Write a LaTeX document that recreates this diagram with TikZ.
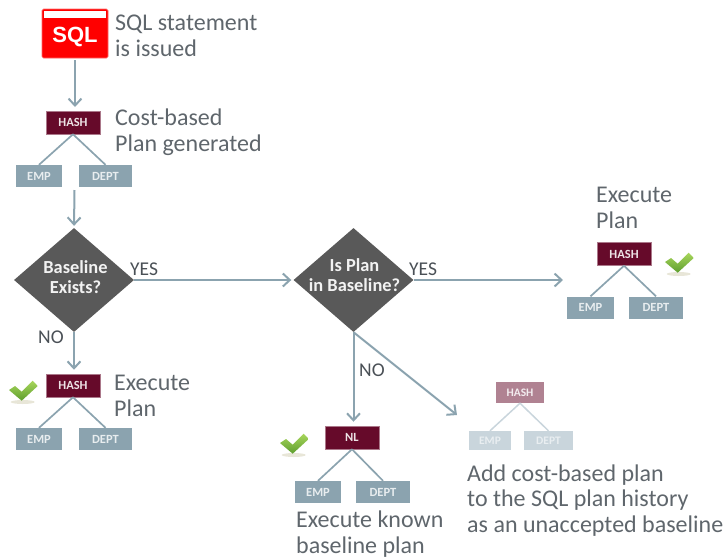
\documentclass[tikz,border=0pt]{standalone}
\usepackage{fontspec}
\setmainfont{Carlito}
\newfontfamily\arialfont{Liberation Sans}
\usetikzlibrary{arrows.meta,shapes.geometric}
\definecolor{linec}{HTML}{8BA3AF}
\definecolor{maroon}{HTML}{660A2A}
\definecolor{maroonf}{HTML}{B08292}
\definecolor{leaff}{HTML}{C9D5DC}
\definecolor{txt}{HTML}{5F666C}
\definecolor{txtd}{HTML}{4A5056}
\definecolor{dia}{HTML}{595959}
\definecolor{chktop}{HTML}{A8D65C}
\definecolor{chkbot}{HTML}{5E9E2E}
\definecolor{chkshadow}{HTML}{E8E6D8}
\tikzset{
  conn/.style={draw=linec,line width=2pt,-{Straight Barb[length=7pt,width=13pt,line width=2pt]}},
  treeline/.style={draw=linec,line width=1.7pt},
  treelinef/.style={draw=leaff,line width=1.5pt},
  hashbox/.style={fill=maroon,draw=maroon!55!white,line width=.5pt,text=white!88!maroon,inner sep=0pt,minimum width=54,minimum height=23,font=\fontsize{12.5}{13}\selectfont\bfseries},
  leafbox/.style={fill=linec,inner sep=0pt,minimum height=22,text=white!80!linec,font=\fontsize{12.5}{13}\selectfont\bfseries},
  hashf/.style={fill=maroonf,inner sep=0pt,minimum width=48,minimum height=21,text=white!85!maroonf,font=\fontsize{11.5}{12}\selectfont\bfseries},
  leaff/.style={fill=leaff,inner sep=0pt,minimum height=19,text=white!60!leaff,font=\fontsize{11.5}{12}\selectfont\bfseries},
  decision/.style={diamond,fill=dia,inner sep=0pt,aspect=1.15,minimum width=120,minimum height=104},
  dtext/.style={text=white!92!dia,align=center,inner sep=0pt,font=\fontsize{18.4}{20}\selectfont\bfseries},
  big/.style={anchor=base west,text=txt,inner sep=0pt,align=left,font=\fontsize{24}{25.3}\selectfont},
  yn/.style={anchor=base west,text=txtd,inner sep=0pt,font=\fontsize{19.5}{20}\selectfont},
  chk/.pic={
    \fill[chkshadow] (13.7,22) ellipse [x radius=12,y radius=2];
    \shade[top color=chktop,bottom color=chkbot]
      (0,10) -- (6,6) -- (12.7,11.7) -- (23.7,.7) -- (28.7,6) -- (12.7,20.7) -- cycle;
  }
}
\begin{document}
\begin{tikzpicture}[x=1pt,y=-1pt]
\useasboundingbox (0,0) rectangle (728,558);
% SQL
\node[fill=red,draw=red!60!white,line width=.6pt,rounded corners=1.5pt,minimum width=66,minimum height=49,inner sep=0pt] (sql) at (75,33.5) {};
\node[fill=white,minimum width=62,minimum height=7,inner sep=0pt] (sqlbar) at (75,14.5) {};
\node[text=white,inner sep=0pt,font=\arialfont\bfseries\fontsize{22}{23}\selectfont] (sqlt) at (75,36.5) {SQL};
\node[big] (tsql) at (115,56) {SQL statement\\is issued};
% Plan 1
\node[hashbox] (h1) at (73,122.5) {HASH};
\node[leafbox,minimum width=46] (e1) at (39,176) {EMP};
\node[leafbox,minimum width=53] (d1) at (105.5,176) {DEPT};
\draw[treeline] (h1.south) -- (e1.north);
\draw[treeline] (h1.south) -- (d1.north);
\node[big] (tcost) at (115,151) {Cost-based\\Plan generated};
\draw[conn,shorten <=2pt,shorten >=4pt] (sql.south) -- (75,111) coordinate (h1top);
% Decision 1
\coordinate (t1) at (74.5,190);
\node[decision] (q1) at (74,280) {};
\node[dtext] (q1t) at (75.5,277) {Baseline\\Exists?};
\draw[conn,shorten >=2pt] (t1) -- (q1.north);
\node[yn] (y1) at (130,275) {YES};
\node[yn] (n1) at (38,343) {NO};
% Plan 2
\node[hashbox] (h2) at (73,385.5) {HASH};
\node[leafbox,minimum width=46] (e2) at (39,439) {EMP};
\node[leafbox,minimum width=53] (d2) at (105.5,439) {DEPT};
\draw[treeline] (h2.south) -- (e2.north);
\draw[treeline] (h2.south) -- (d2.north);
\draw[conn,shorten >=4pt] (q1.south) -- (q1.south |- h2.north);
\node[big] (tex1) at (114,416) {Execute\\Plan};
\pic at (9,380) {chk};
% Decision 2
\node[decision] (q2) at (353.5,280) {};
\node[dtext] (q2t) at (354.5,275.5) {Is Plan\\in Baseline?};
\draw[conn,shorten >=2pt] (q1.east) -- (q2.west);
\node[yn] (y2) at (409,275) {YES};
\node[yn] (n2) at (359,376) {NO};
% Plan 3
\node[hashbox] (h3) at (624,254) {HASH};
\node[leafbox,minimum width=47] (e3) at (590.5,307.5) {EMP};
\node[leafbox,minimum width=54] (d3) at (656,307.5) {DEPT};
\draw[treeline] (h3.south) -- (e3.north);
\draw[treeline] (h3.south) -- (d3.north);
\coordinate (a3) at (563,280);
\draw[conn] (q2.east) -- (a3);
\node[big] (tex3) at (596,228) {Execute\\Plan};
\pic at (665,252) {chk};
% Plan NL
\node[hashbox] (h4) at (352,437.5) {NL};
\node[leafbox,minimum width=46] (e4) at (318,492) {EMP};
\node[leafbox,minimum width=54] (d4) at (383,492) {DEPT};
\draw[treeline] (h4.south) -- (e4.north);
\draw[treeline] (h4.south) -- (d4.north);
\draw[conn,shorten >=4pt] (q2.south) -- (q2.south |- h4.north);
\node[big] (tex4) at (296,553) {Execute known\\baseline plan};
\pic at (280,433) {chk};
% Faded plan
\node[hashf] (h5) at (520,392.5) {HASH};
\node[leaff,minimum width=42] (e5) at (490,440.5) {EMP};
\node[leaff,minimum width=49] (d5) at (548.5,440.5) {DEPT};
\draw[treelinef] (h5.south) -- (e5.north);
\draw[treelinef] (h5.south) -- (d5.north);
\coordinate (a5) at (457,415);
\draw[conn] (q2.south) -- (a5);
\node[big] (tadd) at (467,532) {Add cost-based plan\\to the SQL plan history\\as an unaccepted baseline};
\end{tikzpicture}
\end{document}
